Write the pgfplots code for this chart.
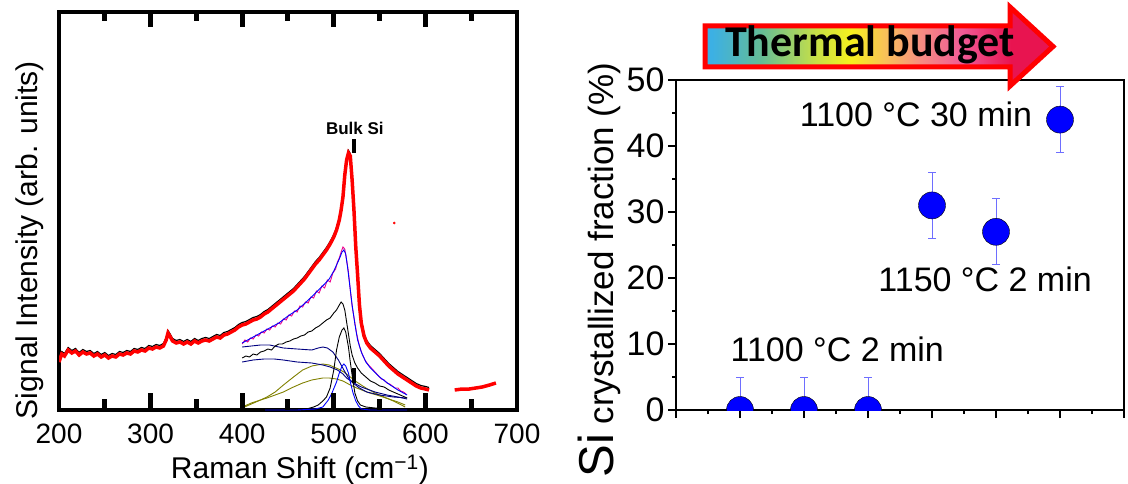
\documentclass[border=0pt]{standalone}
\usepackage{pgfplots}
\pgfplotsset{compat=1.18}
\usepackage{fontspec}
\setmainfont{Liberation Sans}
\newfontfamily\carlito{Carlito}
\definecolor{olivec}{RGB}{128,128,0}
\definecolor{navyc}{RGB}{0,0,128}
\definecolor{errc}{RGB}{110,110,255}
\definecolor{r1}{RGB}{60,176,228}
\definecolor{r2}{RGB}{100,188,150}
\definecolor{r3}{RGB}{200,224,70}
\definecolor{r4}{RGB}{246,240,30}
\definecolor{r5}{RGB}{248,192,90}
\definecolor{r6}{RGB}{246,140,130}
\definecolor{r7}{RGB}{240,90,150}
\definecolor{r8}{RGB}{232,20,80}
\pgfdeclarehorizontalshading{rainbowarrow}{100bp}{color(0bp)=(r1); color(26bp)=(r1); color(33bp)=(r2); color(41bp)=(r3); color(46bp)=(r4); color(51bp)=(r5); color(56bp)=(r6); color(62bp)=(r7); color(69bp)=(r8); color(100bp)=(r8)}
\begin{document}
\begin{tikzpicture}
\path[use as bounding box] (0pt,0pt) rectangle (1128pt,-484pt);
% ---------------- left panel ----------------
\begin{axis}[
  at={(59pt,-410pt)}, anchor=south west, scale only axis,
  width=458pt, height=398pt,
  xmin=200, xmax=700, ymin=0, ymax=398,
  xtick={200,300,...,700},
  ymajorticks=false, yminorticks=false,
  major tick length=0pt,
  axis line style={black, line width=4.5pt},
  /pgf/number format/assume math mode=true,
  xticklabel style={font=\fontsize{28}{32}\selectfont, yshift=-10pt},
  xlabel={Raman Shift (cm\textsuperscript{−1})},
  xlabel style={at={(axis description cs:0.526,-0.173)}, anchor=base, font=\fontsize{30}{34}\selectfont},
  ylabel={Signal Intensity (arb. units)},
  ylabel style={at={(axis description cs:-0.063,0.427)}, anchor=center, font=\fontsize{30}{34}\selectfont},
]
% olive fit components
\addplot[olivec, line width=0.9pt] table {
400 2
410 6
420 10
427 13
436 18
445 25
456 33
466 40
476 44
488 46
495 45
500 43
505 41
511 38
518 33
525 28
535 22
545 17
555 13
565 9
578 3
};
\addplot[olivec, line width=0.9pt] table {
400 3
410 7
420 10
427 12
436 15
445 18
456 23
466 27
476 30
488 32
495 32
503 31
510 29
518 25
525 22
539 17
547 15
560 11
570 8
578 5
};
% navy fit components
\addplot[navyc, line width=0.9pt] table {
400 63
410 64
420 65
430 65
445 62
460 61
476 60
483 62
488 63
493 62
499 58
505 50
511 40
516 32
521 27
528 22
536 18
550 15
565 13
580 12
};
\addplot[navyc, line width=0.9pt] table {
400 48
412 50
424 51
435 51
445 50
460 48
476 47
488 45
496 43
504 40
510 36
514 32
520 28
530 23
545 18
558 15
570 13
580 11
};
% sharp components
\addplot[black, line width=0.9pt] table {
460 0
470 1
478 3
483 5
488 9
492 13
496 22
500 40
503 60
506 73
509 80
511 82
513 78
516 63
518 48
520 35
523 17
526 9
529 5
535 3
545 2
560 1
580 0
};
\addplot[blue, line width=0.9pt] table {
425 0
460 0
480 1
488 3
494 10
498 17
503 28
506 37
509 44
511 46
513 44
516 37
518 28
521 17
524 9
527 4
530 1
540 0
580 0
};
% black noisy spectrum
\addplot[black, line width=0.9pt] table {
400 52
404 54
408 53
412 56
416 55
420 58
424 59
428 61
432 60
436 64
440 66
444 66
448 68
452 69
456 71
460 72
464 74
468 75
472 78
476 79
480 82
484 84
488 87
492 90
496 92
500 97
503 100
506 105
508 108
510 106
512 100
514 88
516 76
518 64
520 55
523 47
526 42
530 37
535 33
540 29
545 27
550 24
555 23
560 20
565 18
570 16
575 14
580 12
};
% magenta noisy spectrum
\addplot[magenta, line width=0.9pt] table {
400 66
403 70
406 68
409 72
412 71
415 75
418 74
421 78
424 77
427 81
430 80
433 84
436 83
439 87
442 86
445 91
448 90
451 95
454 94
457 99
460 98
463 104
466 103
469 108
472 107
475 113
478 112
481 119
484 117
487 124
490 122
493 130
496 128
499 137
502 141
504 148
506 152
508 158
510 163
512 161
514 150
516 138
518 120
520 104
522 93
525 76
528 64
531 56
534 50
537 46
540 43
543 40
546 37
549 34
552 31
555 30
558 27
561 26
564 24
567 22
570 22
573 19
576 18
579 16
};
% blue fit
\addplot[blue, line width=0.9pt] table {
400 67
410 72
420 77
430 82
440 87
450 94
460 100
470 108
480 117
490 126
495 131
500 139
503 145
506 151
509 158
511 160
513 156
515 143
517 128
520 105
523 86
526 70
530 58
535 48
540 42
550 33
560 26
570 20
580 15
};
% red spectrum with black one beneath
\pgfplotstableread{
x y
200 48
203 56
206 54
210 60
214 57
218 59
222 55
226 58
230 56
234 57
238 54
242 56
246 53
250 55
254 52
258 54
262 53
266 56
270 55
274 57
278 56
282 59
286 58
290 60
294 59
298 62
302 61
306 63
310 62
314 64
317 70
319 77
321 74
324 69
328 67
332 68
336 66
340 68
344 66
348 69
352 67
356 69
360 70
364 69
368 71
372 73
376 72
380 75
384 76
388 78
392 80
396 83
400 85
404 86
408 88
412 90
416 91
420 93
424 96
428 98
432 101
436 104
440 107
444 110
448 113
452 116
456 119
460 123
464 127
468 131
472 136
476 141
480 146
484 150
488 155
492 160
496 166
500 173
503 180
506 190
508 200
510 213
512 235
514 250
516 257
518 254
520 230
522 200
524 163
526 135
528 105
530 87
533 74
536 67
540 62
545 58
550 54
555 49
560 44
565 40
570 36
575 33
580 30
585 27
590 24
595 22
600 21
604 20
}\redspec
\addplot[black, line width=1.2pt, yshift=2.5pt] table {\redspec};
\addplot[red, line width=3.5pt] table {\redspec};
\addplot[red, line width=3.5pt] table {
632 20
640 21
648 21
655 22
662 23
670 25
677 27
};
\addplot[only marks, mark=*, mark size=1.2pt, red] coordinates {(566,187)};
% Bulk Si marker
\draw[black, line width=4pt] (axis cs:522,257) -- (axis cs:522,271);
\draw[black, line width=4pt] (axis cs:522,27) -- (axis cs:522,42);
\node[font=\fontsize{17}{20}\selectfont\bfseries, anchor=base] at (axis cs:523,276) {Bulk Si};
\end{axis}
% ---------------- right panel ----------------
\begin{axis}[
  at={(676pt,-410pt)}, anchor=south west, scale only axis,
  width=448pt, height=330pt,
  xmin=0, xmax=7, ymin=0, ymax=50,
  xtick={0,...,7}, xticklabels={}, minor x tick num=1,
  ytick={0,10,...,50}, minor y tick num=1,
  tick align=outside, xtick pos=left, ytick pos=left,
  major tick length=8pt, minor tick length=4pt,
  tick style={black, line width=1.2pt},
  axis line style={black, line width=1.3pt},
  /pgf/number format/assume math mode=true,
  yticklabel style={font=\fontsize{34}{40}\selectfont},
  clip marker paths=true,
  ylabel={{\fontsize{49}{54}\selectfont Si} crystallized fraction (\%)},
  ylabel style={at={(axis description cs:-0.170,0.424)}, anchor=center, font=\fontsize{35}{42}\selectfont},
]
\addplot[only marks, mark=*, mark size=13.5pt, mark options={draw=none, fill=blue},
  error bars/.cd, y dir=both, y explicit,
  error bar style={errc, line width=1pt},
  error mark options={rotate=90, mark size=4pt, errc, line width=1pt}]
  table[x=x, y=y, y error=e] {
x y e
1 0 5
2 0 5
3 0 5
4 31 5
5 27 5
6 44 5
};
\node[font=\fontsize{34}{40}\selectfont, anchor=base] at (axis cs:3.75,42.9) {1100 °C 30 min};
\node[font=\fontsize{34}{40}\selectfont, anchor=base] at (axis cs:4.83,17.9) {1150 °C 2 min};
\node[font=\fontsize{34}{40}\selectfont, anchor=base] at (axis cs:2.52,7.42) {1100 °C 2 min};
\end{axis}
% Thermal budget arrow
\path[draw=red, line width=5pt, line join=miter, shading=rainbowarrow]
  (705pt,-26pt) -- (1010pt,-26pt) -- (1010pt,-7pt) -- (1053pt,-46.5pt) -- (1010pt,-86pt) -- (1010pt,-67pt) -- (705pt,-67pt) -- cycle;
\node[font=\carlito\bfseries\fontsize{44}{50}\selectfont, anchor=base, inner sep=0pt] at (870pt,-57pt) {Thermal budget};
% inward tick marks of the left frame, as small filled bars
\fill[black] (148pt,-410pt) rectangle (153pt,-393pt);
\fill[black] (240pt,-410pt) rectangle (245pt,-393pt);
\fill[black] (331pt,-410pt) rectangle (336pt,-393pt);
\fill[black] (423pt,-410pt) rectangle (428pt,-393pt);
\fill[black] (102pt,-410pt) rectangle (107pt,-399pt);
\fill[black] (194pt,-410pt) rectangle (199pt,-399pt);
\fill[black] (285pt,-410pt) rectangle (290pt,-399pt);
\fill[black] (377pt,-410pt) rectangle (382pt,-399pt);
\fill[black] (469pt,-410pt) rectangle (474pt,-399pt);
\fill[black] (148pt,-12pt) rectangle (153pt,-27pt);
\fill[black] (240pt,-12pt) rectangle (245pt,-27pt);
\fill[black] (331pt,-12pt) rectangle (336pt,-27pt);
\fill[black] (423pt,-12pt) rectangle (428pt,-27pt);
\fill[black] (102pt,-12pt) rectangle (107pt,-21pt);
\fill[black] (194pt,-12pt) rectangle (199pt,-21pt);
\fill[black] (285pt,-12pt) rectangle (290pt,-21pt);
\fill[black] (377pt,-12pt) rectangle (382pt,-21pt);
\fill[black] (469pt,-12pt) rectangle (474pt,-21pt);
\end{tikzpicture}
\end{document}
